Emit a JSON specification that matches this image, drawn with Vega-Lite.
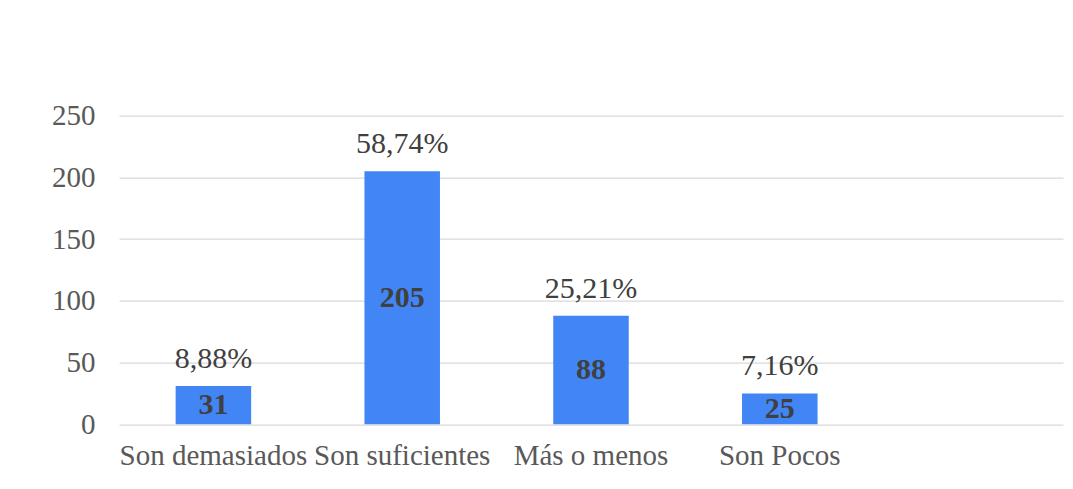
{
  "$schema": "https://vega.github.io/schema/vega-lite/v6.json",
  "width": 944,
  "height": 308.6,
  "autosize": {"type": "none"},
  "padding": {"left": 119, "top": 115.7, "right": 10, "bottom": 64.7},
  "background": "white",
  "config": {"view": {"stroke": null}, "font": "'Liberation Serif', 'Times New Roman', Times, serif"},
  "data": {
    "values": [
      {"cat": "Son demasiados", "n": 31, "pct": "8,88%"},
      {"cat": "Son suficientes", "n": 205, "pct": "58,74%"},
      {"cat": "Más o menos", "n": 88, "pct": "25,21%"},
      {"cat": "Son Pocos", "n": 25, "pct": "7,16%"}
    ]
  },
  "encoding": {
    "x": {
      "field": "cat",
      "type": "nominal",
      "sort": null,
      "scale": {
        "domain": ["Son demasiados", "Son suficientes", "Más o menos", "Son Pocos", " "],
        "paddingInner": 0.6,
        "paddingOuter": 0.3
      },
      "axis": {
        "title": null,
        "labelAngle": 0,
        "domain": false,
        "ticks": false,
        "labelPadding": 17,
        "labelFontSize": 29,
        "labelColor": "#595959",
        "labelFont": "'Liberation Serif', 'Times New Roman', Times, serif",
        "labelOverlap": false,
        "labelLimit": 0
      }
    }
  },
  "layer": [
    {
      "mark": {"type": "bar", "color": "#4285F4"},
      "encoding": {
        "y": {
          "field": "n",
          "type": "quantitative",
          "scale": {"domain": [0, 250], "nice": false},
          "axis": {
            "title": null,
            "values": [0, 50, 100, 150, 200, 250],
            "domain": false,
            "ticks": false,
            "labelPadding": 24,
            "labelFontSize": 29,
            "labelColor": "#595959",
            "labelFont": "'Liberation Serif', 'Times New Roman', Times, serif",
            "gridColor": "#d9d9d9",
            "gridWidth": 1.3
          }
        }
      }
    },
    {
      "mark": {"type": "text", "baseline": "alphabetic", "dy": -18, "fontSize": 30, "color": "#404040", "font": "'Liberation Serif', 'Times New Roman', Times, serif"},
      "encoding": {
        "y": {"field": "n", "type": "quantitative"},
        "text": {"field": "pct"}
      }
    },
    {
      "transform": [{"calculate": "datum.n / 2", "as": "mid"}],
      "mark": {"type": "text", "baseline": "middle", "fontSize": 30, "fontWeight": "bold", "color": "#404040", "font": "'Liberation Serif', 'Times New Roman', Times, serif"},
      "encoding": {
        "y": {"field": "mid", "type": "quantitative"},
        "text": {"field": "n"}
      }
    }
  ]
}
